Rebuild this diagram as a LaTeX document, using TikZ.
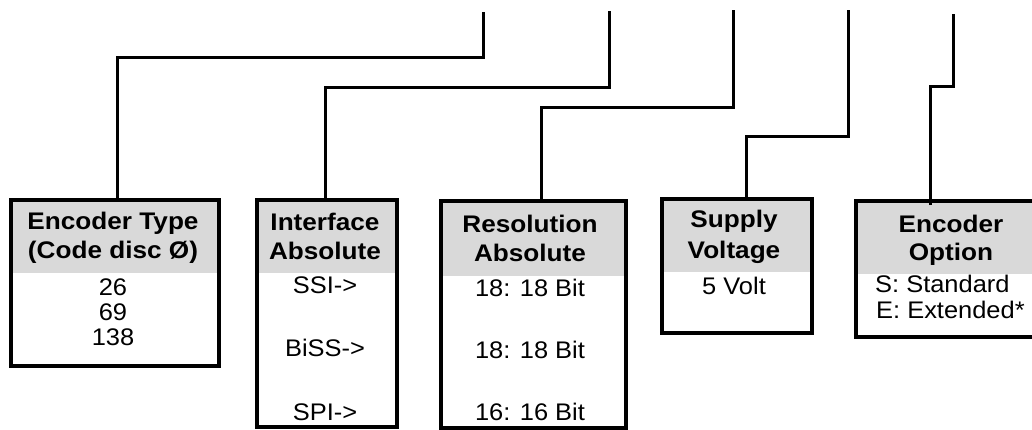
\documentclass[tikz,border=0pt]{standalone}
\usepackage{fontspec}
\setmainfont[FakeStretch=1.06]{Liberation Sans}
\newfontfamily\hdrfont[FakeStretch=1.09]{Liberation Sans}
\definecolor{hdrgray}{HTML}{D9D9D9}
\begin{document}
\begin{tikzpicture}[x=1pt,y=-1pt,
  box/.style={draw, line width=4pt, inner sep=0pt, anchor=north west,
    path picture={\fill[hdrgray] (path picture bounding box.north west) rectangle ([yshift=-#1]path picture bounding box.north east);}},
  htxt/.style={font=\hdrfont\bfseries\fontsize{24}{28}\selectfont, inner sep=0pt, anchor=base},
  btxt/.style={font=\fontsize{24}{28}\selectfont, inner sep=0pt, anchor=base},
  conn/.style={line width=3pt}]
\useasboundingbox (0,0) rectangle (1032,429);
\clip (0,0) rectangle (1032,429);
% boxes
\node[box=73pt, minimum width=208pt, minimum height=166pt] (b1) at (9,198) {};
\node[box=73pt, minimum width=140pt, minimum height=227pt] (b2) at (255,198) {};
\node[box=75pt, minimum width=185pt, minimum height=227pt] (b3) at (439,199) {};
\node[box=73pt, minimum width=150pt, minimum height=134pt] (b4) at (660,197) {};
\node[box=73pt, minimum width=190pt, minimum height=136pt] (b5) at (854,199) {};
% headers
\node[htxt] (h1a) at (113,229) {Encoder Type};
\node[htxt] (h1b) at (113,258) {(Code disc Ø)};
\node[htxt] (h2a) at (325,230) {Interface};
\node[htxt] (h2b) at (325,259) {Absolute};
\node[htxt] (h3a) at (530,232) {Resolution};
\node[htxt] (h3b) at (530,261) {Absolute};
\node[htxt] (h4a) at (734,227) {Supply};
\node[htxt] (h4b) at (734,258) {Voltage};
\node[htxt] (h5a) at (951,232) {Encoder};
\node[htxt] (h5b) at (951,260) {Option};
% bodies
\node[btxt] (e1) at (113,295) {26};
\node[btxt] (e2) at (113,320) {69};
\node[btxt] (e3) at (113,345) {138};
\node[btxt] (i1) at (325,293) {SSI->};
\node[btxt] (i2) at (325,356) {BiSS->};
\node[btxt] (i3) at (325,420) {SPI->};
\node[btxt] (r1) at (530,296) {18: 18 Bit};
\node[btxt] (r2) at (530,358) {18: 18 Bit};
\node[btxt] (r3) at (530,420) {16: 16 Bit};
\node[btxt] (s1) at (734,294) {5 Volt};
\node[btxt, anchor=base west] (o1) at (875,292) {S: Standard};
\node[btxt, anchor=base west] (o2) at (876,318.5) {E: Extended*};
% connector points
\coordinate (k1) at (483,57);  \coordinate (t1) at (483,12);
\coordinate (k2) at (609,87);  \coordinate (t2) at (609,11);
\coordinate (k3) at (733,107); \coordinate (t3) at (733,10);
\coordinate (k4) at (848,136); \coordinate (t4) at (848,10);
\coordinate (k5) at (953,86);  \coordinate (t5) at (953,14);
\coordinate (s5) at ([xshift=-21pt,yshift=-6pt]b5.north);
% connectors
\draw[conn] ([xshift=2pt]b1.north) |- (k1) -- (t1);
\draw[conn] ([xshift=-2pt]b2.north) |- (k2) -- (t2);
\draw[conn] ([xshift=7.5pt]b3.north) |- (k3) -- (t3);
\draw[conn] ([xshift=9pt]b4.north) |- (k4) -- (t4);
\draw[conn] (s5) |- (k5) -- (t5);
\end{tikzpicture}
\end{document}
